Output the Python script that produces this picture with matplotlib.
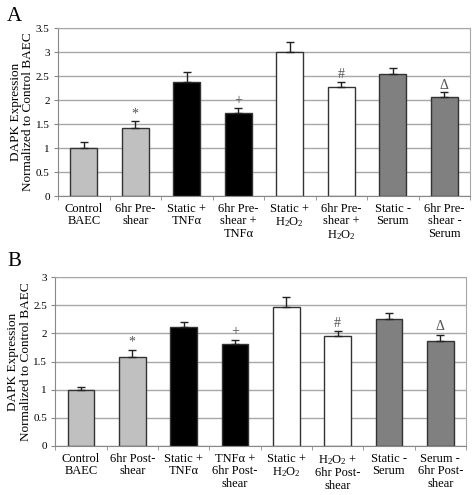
import numpy as np
import matplotlib.pyplot as plt

plt.rcParams['font.family'] = ['Liberation Serif', 'DejaVu Serif']
plt.rcParams['mathtext.fontset'] = 'custom'
plt.rcParams['mathtext.rm'] = 'Liberation Serif'
plt.rcParams['mathtext.it'] = 'Liberation Serif:italic'

# panel A data
labels_a = ["Control\nBAEC", "6hr Pre-\nshear", "Static +\nTNFα", "6hr Pre-\nshear +\nTNFα",
            "Static +\nH$\\mathrm{_2}$O$\\mathrm{_2}$", "6hr Pre-\nshear +\nH$\\mathrm{_2}$O$\\mathrm{_2}$",
            "Static -\nSerum", "6hr Pre-\nshear -\nSerum"]
values_a = [1.0, 1.41, 2.38, 1.74, 3.0, 2.28, 2.54, 2.06]
errors_a = [0.13, 0.15, 0.21, 0.09, 0.21, 0.10, 0.12, 0.10]

# panel B data
labels_b = ["Control\nBAEC", "6hr Post-\nshear", "Static +\nTNFα", "TNFα +\n6hr Post-\nshear",
            "Static +\nH$\\mathrm{_2}$O$\\mathrm{_2}$", "H$\\mathrm{_2}$O$\\mathrm{_2}$ +\n6hr Post-\nshear",
            "Static -\nSerum", "Serum -\n6hr Post-\nshear"]
values_b = [1.0, 1.59, 2.12, 1.82, 2.47, 1.95, 2.26, 1.87]
errors_b = [0.05, 0.12, 0.09, 0.07, 0.17, 0.10, 0.10, 0.11]

bar_colors = ["#c0c0c0", "#c0c0c0", "#000000", "#000000", "#ffffff", "#ffffff", "#808080", "#808080"]
marks = ["", "*", "", "+", "", "#", "", "Δ"]

fig = plt.figure(figsize=(4.72, 4.95), dpi=100)


def panel(ax, labels, values, errors, ymax):
    x = np.arange(len(values))
    ax.set_axisbelow(True)
    ax.yaxis.grid(True, color="#a8a8a8", linewidth=1.0)
    ax.bar(x, values, width=0.52, color=bar_colors, edgecolor="#333333", linewidth=1.0, zorder=2)
    ax.errorbar(x, values, yerr=[np.zeros(len(errors)), errors], fmt="none",
                ecolor="#222222", elinewidth=1.0, capsize=3, capthick=1.0, zorder=3)
    for xi, v, e, m in zip(x, values, errors, marks):
        if m:
            ax.text(xi, v + e + 0.02, m, ha="center", va="bottom", fontsize=10, color="#555555")
    ax.set_xlim(-0.5, len(values) - 0.5)
    ax.set_ylim(0, ymax)
    ticks = np.arange(0, ymax + 0.01, 0.5)
    ax.set_yticks(ticks)
    ax.set_yticklabels(["%g" % t for t in ticks], fontsize=8)
    ax.set_xticks(x)
    ax.set_xticklabels(labels, fontsize=9, linespacing=1.05)
    ax.set_xticks(np.arange(-0.5, len(values)), minor=True)
    ax.tick_params(axis="x", which="major", length=0, pad=5)
    ax.tick_params(axis="x", which="minor", length=3, color="#888888")
    ax.tick_params(axis="y", length=3, color="#888888", pad=3)
    for s in ax.spines.values():
        s.set_color("#a8a8a8")
    ax.spines["left"].set_color("#888888")
    ax.spines["bottom"].set_color("#888888")
    ax.set_ylabel("DAPK Expression\nNormalized to Control BAEC", fontsize=9.5, linespacing=1.1, labelpad=1)


ax1 = fig.add_axes([0.123, 0.604, 0.873, 0.339])
panel(ax1, labels_a, values_a, errors_a, 3.5)
fig.text(0.015, 0.985, "A", fontsize=15, va="top", ha="left")

ax2 = fig.add_axes([0.117, 0.099, 0.870, 0.341])
panel(ax2, labels_b, values_b, errors_b, 3.0)
fig.text(0.015, 0.49, "B", fontsize=15, va="top", ha="left")

fig.savefig("out.png", dpi=100)
